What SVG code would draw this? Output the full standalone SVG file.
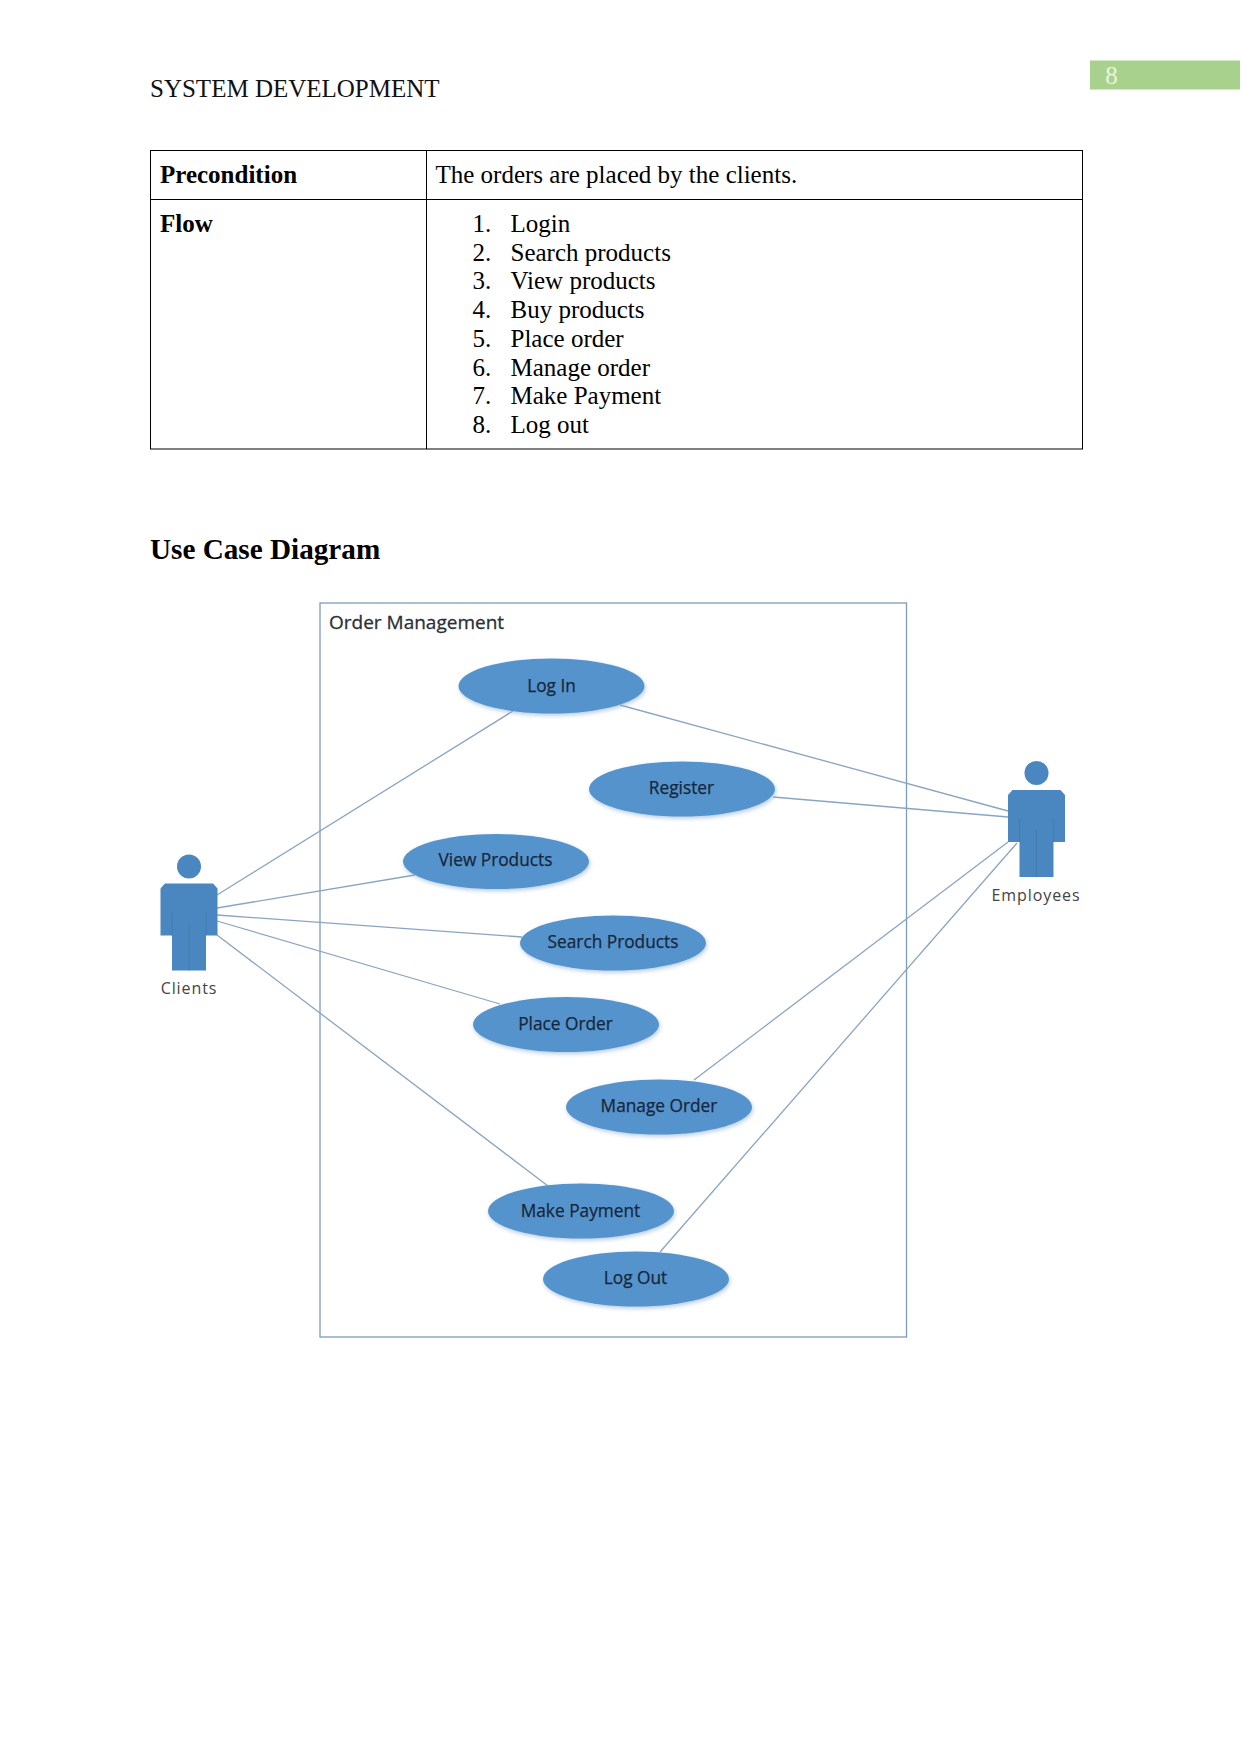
<svg xmlns="http://www.w3.org/2000/svg" width="1241" height="1754" viewBox="0 0 1241 1754">
<style>
.t{font-family:"Liberation Serif",serif;font-size:25px;fill:#000}
.b{font-weight:bold}
.u{font-family:"Open Sans","Liberation Sans",sans-serif;font-size:17.300px;fill:#17263a;text-anchor:middle;stroke:#17263a;stroke-width:0.250}
.a{font-family:"Open Sans","Liberation Sans",sans-serif;font-size:16px;fill:#444;text-anchor:middle;letter-spacing:0.900px}
.e{fill:#5593cd;filter:url(#s)}
.p{fill:#4a86bf}
.l{stroke:#8aa5c0;stroke-width:1.300;fill:none}
.g{fill:none;stroke:#000;stroke-width:1}
</style>
<defs>
<filter id="s" x="-10%" y="-20%" width="120%" height="150%"><feDropShadow dx="1" dy="2" stdDeviation="2" flood-color="#7ba3cc" flood-opacity="0.55"/></filter>
<g id="actor">
<circle cx="0" cy="-41" r="12" class="p"/>
<path class="p" d="M-24,-24 H24 L28.500,-19 V28 H17 V63 H-17 V28 H-28.500 V-19 Z"/>
<path d="M-17,5 V28 M17,5 V28 M0,16 V63" stroke="#3f78ad" stroke-width="0.700" fill="none"/>
</g>
</defs>
<rect width="1241" height="1754" fill="#fff"/>
<g id="header">
<text class="t" x="150" y="97" style="fill:#111">SYSTEM DEVELOPMENT</text>
<rect x="1090" y="60.500" width="150" height="29" fill="#a9d18e"/>
<text x="1111.500" y="84" font-family="Liberation Serif,serif" font-size="25" fill="#e8f5df" text-anchor="middle">8</text>
</g>
<g id="table">
<rect class="g" x="150.500" y="150.500" width="932" height="298.500"/>
<path class="g" d="M150,199.500 H1082.500 M426.500,150 V449"/>
<text class="t b" x="160" y="183">Precondition</text>
<text class="t" x="435.500" y="183">The orders are placed by the clients.</text>
<text class="t b" x="160" y="232">Flow</text>
<g class="t">
<text x="472.500" y="232">1.</text><text x="510.500" y="232">Login</text>
<text x="472.500" y="261">2.</text><text x="510.500" y="261">Search products</text>
<text x="472.500" y="289">3.</text><text x="510.500" y="289">View products</text>
<text x="472.500" y="318">4.</text><text x="510.500" y="318">Buy products</text>
<text x="472.500" y="347">5.</text><text x="510.500" y="347">Place order</text>
<text x="472.500" y="376">6.</text><text x="510.500" y="376">Manage order</text>
<text x="472.500" y="404">7.</text><text x="510.500" y="404">Make Payment</text>
<text x="472.500" y="433">8.</text><text x="510.500" y="433">Log out</text>
</g>
</g>
<text class="t b" x="150" y="559" style="font-size:29.200px">Use Case Diagram</text>
<g id="system">
<rect x="320" y="603" width="586.500" height="734" fill="#fff" stroke="#7d9cb8" stroke-width="1.300"/>
<text x="329" y="629" font-family="Open Sans,Liberation Sans,sans-serif" font-size="19" fill="#2b3038" stroke="#2b3038" stroke-width="0.300">Order Management</text>
</g>
<g id="connectors">
<path class="l" d="M217,895 L513,711"/>
<path class="l" d="M217,908 L415,875"/>
<path class="l" d="M217,915 L522,937"/>
<path class="l" d="M217,921 L500,1004"/>
<path class="l" d="M217,935 L548,1186"/>
<path class="l" d="M1008,811 L620,705"/>
<path class="l" d="M1008,817 L773,797"/>
<path class="l" d="M1008,842 L694,1080"/>
<path class="l" d="M1017,843 L660,1252"/>
</g>
<g id="login"><ellipse class="e" cx="551.500" cy="686" rx="93" ry="27.500"/><text class="u" x="551.500" y="692">Log In</text></g>
<g id="register"><ellipse class="e" cx="682" cy="789" rx="93" ry="27.500"/><text class="u" x="681.500" y="794">Register</text></g>
<g id="viewproducts"><ellipse class="e" cx="496" cy="861.500" rx="93" ry="27.500"/><text class="u" x="495.500" y="866">View Products</text></g>
<g id="searchproducts"><ellipse class="e" cx="613" cy="943" rx="93" ry="27.500"/><text class="u" x="613" y="948">Search Products</text></g>
<g id="placeorder"><ellipse class="e" cx="566" cy="1024.500" rx="93" ry="27.500"/><text class="u" x="565.500" y="1030">Place Order</text></g>
<g id="manageorder"><ellipse class="e" cx="659" cy="1107" rx="93" ry="27.500"/><text class="u" x="659" y="1112">Manage Order</text></g>
<g id="makepayment"><ellipse class="e" cx="581" cy="1211" rx="93" ry="27.500"/><text class="u" x="580.500" y="1217">Make Payment</text></g>
<g id="logout"><ellipse class="e" cx="636" cy="1279" rx="93" ry="27.500"/><text class="u" x="635.500" y="1284">Log Out</text></g>
<g id="clients"><use href="#actor" x="189" y="907.500"/><text class="a" x="189" y="994">Clients</text></g>
<g id="employees"><use href="#actor" x="1036.500" y="814"/><text class="a" x="1036" y="901">Employees</text></g>
</svg>
